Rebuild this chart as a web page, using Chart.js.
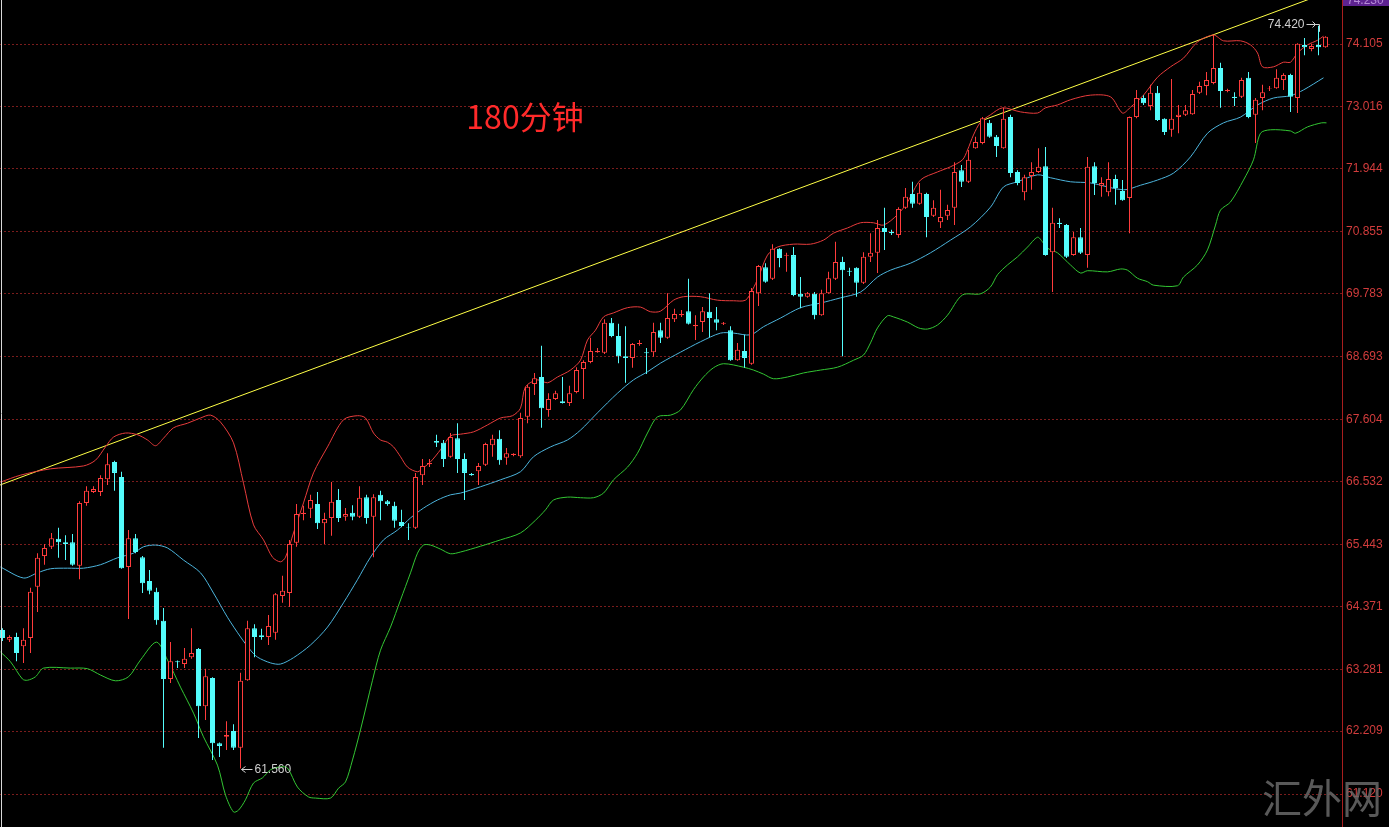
<!DOCTYPE html>
<html>
<head>
<meta charset="utf-8">
<script src="https://cdn.jsdelivr.net/npm/chart.js@4.4.0/dist/chart.umd.min.js"></script>
<style>
  html, body { margin: 0; padding: 0; background: #000; overflow: hidden; }
  #wrap { width: 1389px; height: 827px; }
</style>
</head>
<body>
<div id="wrap"><canvas id="kChart" width="1389" height="827"></canvas></div>
<script>
// 180-minute candles, one entry per bar (left to right)
const opens = [
  63.96, 63.79, 63.84, 63.68, 63.82, 64.71, 65.24, 65.40, 65.54, 65.48,
  65.48, 65.07, 66.16, 66.35, 66.35, 66.57, 66.87, 66.61, 65.05, 65.55,
  65.22, 64.81, 64.62, 64.12, 63.11, 63.42, 63.37, 63.49, 63.63, 62.64,
  63.13, 62.00, 62.11, 62.21, 61.92, 63.09, 63.99, 63.87, 63.84, 63.91,
  64.55, 64.60, 65.47, 65.97, 66.06, 66.14, 65.81, 65.90, 66.21, 65.92,
  65.99, 65.92, 66.26, 65.92, 66.30, 66.19, 66.11, 65.83, 65.74, 65.73,
  66.64, 66.83, 67.23, 67.20, 66.96, 67.28, 66.92, 66.66, 66.71, 66.82,
  67.16, 67.27, 66.94, 66.99, 66.97, 67.65, 68.22, 68.34, 67.77, 67.96,
  67.92, 67.89, 68.08, 68.48, 68.60, 68.77, 68.76, 69.28, 69.05, 68.70,
  68.67, 68.91, 68.77, 68.77, 69.15, 69.02, 69.34, 69.41, 69.48, 69.22,
  69.29, 69.47, 69.34, 69.26, 69.15, 68.63, 68.79, 68.57, 69.79, 70.24,
  70.04, 70.56, 70.44, 70.45, 69.78, 69.73, 69.78, 69.41, 69.79, 70.04,
  70.33, 70.18, 70.23, 69.97, 70.42, 70.49, 70.92, 70.85, 70.80, 71.27,
  71.51, 71.34, 71.51, 71.13, 71.02, 71.13, 71.27, 71.92, 71.72, 72.30,
  72.39, 72.74, 72.50, 72.30, 72.84, 71.89, 71.54, 71.82, 71.89, 71.99,
  70.50, 71.01, 70.97, 70.45, 70.76, 70.45, 71.99, 71.65, 71.54, 71.77,
  71.56, 71.44, 72.84, 73.17, 73.03, 73.26, 72.81, 72.62, 72.84, 72.88,
  72.89, 73.26, 73.38, 73.43, 73.69, 73.29, 73.19, 73.19, 73.52, 72.88,
  73.17, 73.33, 73.34, 73.48, 73.57, 73.17, 74.09, 74.02, 74.09, 74.05
];
const highs = [
  63.99, 63.87, 63.91, 63.99, 64.69, 65.29, 65.45, 65.64, 65.73, 65.60,
  65.62, 66.19, 66.45, 66.45, 66.64, 67.02, 66.89, 66.70, 65.69, 65.62,
  65.24, 65.00, 64.69, 64.34, 63.75, 63.43, 63.65, 63.99, 63.65, 63.29,
  63.14, 62.01, 62.38, 62.33, 63.22, 64.12, 64.06, 63.98, 64.22, 64.60,
  64.90, 65.52, 66.14, 66.11, 66.30, 66.35, 65.99, 66.52, 66.40, 66.07,
  66.12, 66.45, 66.30, 66.31, 66.37, 66.21, 66.18, 66.04, 65.81, 66.68,
  66.92, 66.92, 67.34, 67.25, 67.37, 67.54, 67.02, 66.68, 66.85, 67.20,
  67.34, 67.42, 67.11, 67.02, 67.72, 68.20, 68.41, 68.88, 68.06, 68.10,
  68.34, 68.19, 68.51, 68.63, 69.02, 68.84, 69.34, 69.36, 69.26, 69.22,
  68.93, 68.98, 68.84, 69.28, 69.28, 69.79, 69.52, 69.50, 70.04, 69.41,
  69.55, 69.79, 69.55, 69.29, 69.22, 68.93, 69.07, 69.88, 70.28, 70.31,
  70.64, 70.57, 70.49, 70.59, 70.07, 69.81, 69.81, 69.85, 70.16, 70.68,
  70.42, 70.23, 70.24, 70.50, 70.83, 71.06, 71.27, 70.89, 71.28, 71.61,
  71.72, 71.70, 71.53, 71.40, 71.58, 71.32, 72.06, 72.01, 72.27, 72.50,
  72.84, 72.79, 72.53, 73.00, 72.88, 71.92, 71.84, 72.06, 72.30, 72.32,
  71.27, 71.09, 70.99, 70.85, 70.92, 72.15, 72.06, 71.80, 72.06, 71.84,
  71.75, 72.85, 73.31, 73.22, 73.40, 73.38, 72.82, 73.50, 73.05, 73.05,
  73.31, 73.45, 73.62, 74.26, 73.78, 73.33, 73.27, 73.52, 73.62, 73.17,
  73.40, 73.38, 73.67, 73.60, 73.59, 74.12, 74.21, 74.11, 74.42, 74.24
];
const lows = [
  63.77, 63.75, 63.42, 63.39, 63.56, 64.27, 65.09, 65.36, 65.21, 65.17,
  65.07, 64.84, 66.11, 66.33, 66.28, 66.47, 66.37, 65.02, 64.15, 65.29,
  64.60, 64.58, 64.05, 61.92, 63.04, 63.30, 63.30, 63.46, 62.09, 62.40,
  61.71, 61.76, 61.88, 61.88, 61.56, 63.08, 63.49, 63.79, 63.70, 63.79,
  64.43, 64.36, 65.40, 65.86, 65.90, 65.71, 65.45, 65.59, 65.83, 65.85,
  65.86, 65.90, 65.80, 65.22, 65.86, 66.11, 65.73, 65.74, 65.52, 65.71,
  66.47, 66.78, 67.13, 66.78, 66.94, 66.68, 66.21, 66.63, 66.47, 66.80,
  66.96, 66.82, 66.82, 66.97, 66.94, 67.54, 68.03, 67.46, 67.65, 67.94,
  67.88, 67.84, 68.06, 67.96, 68.58, 68.76, 68.74, 69.03, 68.58, 68.24,
  68.50, 68.88, 68.39, 68.69, 68.93, 69.00, 69.29, 69.38, 69.25, 68.98,
  69.12, 69.03, 69.15, 69.24, 68.62, 68.62, 68.50, 68.55, 69.57, 69.97,
  70.02, 70.24, 70.16, 69.74, 69.53, 69.71, 69.34, 69.40, 69.78, 70.02,
  68.70, 70.09, 69.73, 69.95, 70.33, 70.14, 70.54, 70.80, 70.75, 71.25,
  71.27, 71.32, 70.76, 71.11, 70.92, 71.06, 70.97, 71.63, 71.70, 72.29,
  72.37, 72.48, 72.15, 72.29, 71.80, 71.66, 71.40, 71.58, 71.87, 70.44,
  69.81, 70.92, 70.40, 70.44, 70.47, 70.23, 71.49, 71.46, 71.47, 71.32,
  71.39, 70.83, 72.82, 73.05, 72.96, 72.77, 72.53, 72.50, 72.56, 72.86,
  72.88, 73.24, 73.22, 73.41, 73.00, 73.27, 73.03, 73.17, 72.82, 72.39,
  72.96, 73.29, 73.33, 73.31, 72.93, 72.91, 73.91, 73.98, 73.91, 74.04
];
const closes = [
  63.82, 63.84, 63.56, 63.79, 64.62, 65.21, 65.38, 65.55, 65.48, 65.45,
  65.09, 66.16, 66.37, 66.40, 66.59, 66.83, 66.68, 65.03, 65.55, 65.31,
  64.77, 64.64, 64.13, 63.11, 63.42, 63.40, 63.46, 63.56, 62.64, 63.16,
  62.00, 61.95, 62.14, 61.92, 63.08, 63.99, 63.84, 63.84, 64.03, 64.58,
  64.64, 65.45, 65.97, 65.99, 66.21, 65.81, 65.88, 66.18, 65.90, 65.97,
  65.92, 66.25, 65.90, 66.26, 66.19, 66.14, 65.85, 65.76, 65.73, 66.61,
  66.80, 66.85, 67.20, 66.92, 67.30, 66.92, 66.68, 66.64, 66.80, 67.18,
  67.27, 66.90, 67.02, 67.01, 67.63, 68.17, 68.32, 67.80, 67.96, 68.06,
  67.89, 68.06, 68.46, 68.60, 68.79, 68.79, 69.28, 69.05, 68.70, 68.67,
  68.91, 68.93, 68.75, 69.12, 69.02, 69.36, 69.43, 69.43, 69.26, 69.24,
  69.48, 69.36, 69.28, 69.28, 68.63, 68.81, 68.67, 69.83, 70.26, 69.99,
  70.56, 70.40, 70.45, 69.76, 69.73, 69.79, 69.41, 69.79, 70.05, 70.33,
  70.19, 70.16, 69.97, 70.42, 70.49, 70.92, 70.85, 70.83, 71.25, 71.46,
  71.34, 71.53, 71.11, 71.27, 71.11, 71.23, 71.89, 71.72, 72.10, 72.41,
  72.82, 72.50, 72.34, 72.81, 71.87, 71.70, 71.80, 71.89, 71.98, 70.45,
  71.01, 70.99, 70.42, 70.76, 70.49, 71.98, 71.70, 71.70, 71.77, 71.61,
  71.40, 72.84, 73.17, 73.08, 73.26, 72.79, 72.58, 72.81, 72.88, 72.96,
  73.24, 73.38, 73.48, 73.69, 73.29, 73.31, 73.17, 73.48, 72.84, 73.14,
  73.27, 73.34, 73.52, 73.57, 73.19, 74.11, 74.05, 74.07, 74.05, 74.23
];

// Bollinger bands, read as [bar index, price] points
const upperBand = [
  [-0.29, 66.52], [2.57, 66.64], [6.86, 66.75], [11.57, 66.80], [13.29, 66.90], [14.71, 67.13],
  [15.86, 67.30], [17.57, 67.37], [19.29, 67.34], [20.71, 67.25], [21.86, 67.15], [23.0, 67.28],
  [24.43, 67.46], [26.43, 67.54], [28.29, 67.63], [29.71, 67.68], [31.14, 67.56], [33.0, 67.20],
  [34.43, 66.50], [35.86, 65.78], [37.29, 65.52], [38.57, 65.22], [39.71, 65.14], [40.43, 65.22],
  [41.57, 65.64], [43.0, 66.16], [44.43, 66.68], [46.43, 67.13], [48.71, 67.60], [50.71, 67.67],
  [51.86, 67.63], [53.0, 67.37], [54.0, 67.25], [55.0, 67.21], [55.86, 67.13], [56.86, 66.96],
  [57.86, 66.78], [59.29, 66.70], [60.14, 66.77], [61.14, 66.87], [62.57, 67.08], [64.0, 67.32],
  [65.43, 67.35], [67.29, 67.39], [69.29, 67.51], [71.14, 67.63], [72.86, 67.67], [74.0, 67.80],
  [74.71, 68.17], [76.43, 68.29], [77.86, 68.24], [79.29, 68.34], [81.14, 68.46], [82.57, 68.63],
  [83.57, 68.98], [84.71, 69.15], [85.86, 69.38], [87.29, 69.45], [89.29, 69.54], [91.14, 69.55],
  [92.57, 69.47], [94.0, 69.48], [95.86, 69.67], [97.29, 69.73], [99.71, 69.73], [102.14, 69.67],
  [104.43, 69.66], [106.14, 69.67], [107.14, 69.85], [108.0, 70.07], [109.29, 70.45], [110.71, 70.59],
  [113.0, 70.64], [115.43, 70.64], [117.29, 70.71], [118.71, 70.83], [120.71, 70.92], [122.57, 71.01],
  [124.43, 71.01], [125.86, 70.97], [127.86, 71.15], [129.29, 71.37], [131.14, 71.75], [133.57, 71.89],
  [135.43, 71.98], [137.14, 72.10], [137.86, 72.27], [138.71, 72.53], [139.71, 72.75], [141.14, 72.88],
  [142.86, 73.00], [145.43, 72.93], [147.86, 72.91], [149.0, 73.00], [150.71, 73.05], [152.57, 73.14],
  [155.43, 73.22], [158.29, 73.19], [160.0, 72.91], [161.14, 73.01], [163.0, 73.22], [165.0, 73.53],
  [166.86, 73.71], [168.71, 73.86], [170.71, 74.14], [173.0, 74.26], [174.43, 74.16], [176.86, 74.16],
  [178.29, 74.09], [179.29, 73.95], [180.0, 73.71], [181.57, 73.71], [183.0, 73.79], [184.0, 73.79],
  [185.0, 73.95], [186.43, 74.09], [187.86, 74.17], [188.71, 74.24]
];
const midBand = [
  [-0.29, 65.05], [3.0, 64.86], [5.0, 64.95], [6.86, 65.02], [9.29, 65.03], [11.57, 65.03],
  [14.0, 65.09], [16.43, 65.21], [18.71, 65.29], [20.14, 65.40], [21.86, 65.43], [23.57, 65.38],
  [25.86, 65.17], [28.29, 64.95], [30.14, 64.60], [32.14, 64.18], [34.0, 63.84], [35.43, 63.61],
  [36.43, 63.49], [38.29, 63.39], [39.71, 63.37], [41.57, 63.48], [44.0, 63.70], [46.43, 64.01],
  [48.71, 64.43], [50.71, 64.83], [52.57, 65.22], [54.43, 65.52], [56.43, 65.69], [58.29, 65.90],
  [60.14, 66.07], [62.14, 66.21], [64.0, 66.30], [65.43, 66.33], [68.29, 66.44], [71.14, 66.56],
  [74.0, 66.70], [75.86, 66.96], [78.29, 67.13], [80.71, 67.25], [82.57, 67.42], [85.0, 67.72],
  [87.86, 68.06], [90.14, 68.29], [92.14, 68.43], [94.0, 68.58], [96.86, 68.77], [99.71, 68.95],
  [102.57, 69.10], [104.43, 69.10], [106.86, 69.07], [108.71, 69.21], [111.14, 69.36], [114.0, 69.54],
  [116.86, 69.62], [119.71, 69.71], [122.57, 69.81], [125.0, 70.07], [126.86, 70.19], [129.71, 70.31],
  [132.57, 70.49], [135.43, 70.71], [138.29, 70.94], [141.14, 71.28], [143.0, 71.63], [145.0, 71.72],
  [147.86, 71.84], [149.71, 71.79], [152.57, 71.72], [155.43, 71.70], [160.14, 71.58], [162.57, 71.66],
  [165.0, 71.75], [167.29, 71.87], [169.71, 72.15], [172.14, 72.56], [174.43, 72.74], [176.86, 72.84],
  [179.29, 73.05], [181.57, 73.17], [184.0, 73.21], [185.86, 73.31], [188.71, 73.52]
];
const lowerBand = [
  [-0.29, 63.58], [1.14, 63.41], [2.86, 63.11], [3.57, 63.09], [4.71, 63.15], [5.86, 63.30],
  [9.71, 63.30], [12.14, 63.29], [14.0, 63.18], [16.14, 63.08], [18.0, 63.15], [19.71, 63.44],
  [22.0, 63.75], [23.57, 63.44], [25.43, 62.97], [27.29, 62.52], [28.71, 62.11], [30.71, 61.62],
  [31.86, 61.10], [33.0, 60.81], [33.71, 60.84], [34.71, 61.02], [35.86, 61.31], [37.14, 61.40],
  [38.29, 61.54], [39.71, 61.59], [40.71, 61.57], [42.14, 61.24], [43.71, 61.07], [44.71, 61.05],
  [46.86, 61.05], [48.0, 61.22], [49.0, 61.33], [50.0, 61.71], [51.14, 62.23], [52.86, 63.09],
  [54.0, 63.61], [55.43, 64.01], [56.86, 64.48], [58.29, 64.95], [59.29, 65.29], [60.14, 65.43],
  [61.14, 65.43], [62.57, 65.36], [64.0, 65.28], [65.43, 65.31], [68.29, 65.41], [71.14, 65.52],
  [74.0, 65.64], [76.14, 65.86], [77.57, 66.04], [78.71, 66.21], [80.71, 66.26], [82.57, 66.25],
  [84.43, 66.25], [85.86, 66.33], [87.29, 66.56], [89.29, 66.78], [90.71, 67.02], [92.14, 67.37],
  [93.57, 67.65], [95.43, 67.68], [96.86, 67.77], [98.71, 68.12], [100.14, 68.34], [101.57, 68.50],
  [103.0, 68.57], [105.86, 68.51], [107.29, 68.46], [108.71, 68.39], [110.14, 68.31], [112.14, 68.34],
  [114.43, 68.41], [116.86, 68.46], [119.29, 68.51], [121.57, 68.63], [123.0, 68.72], [124.0, 68.93],
  [125.0, 69.19], [126.43, 69.40], [127.29, 69.38], [129.29, 69.29], [130.86, 69.19], [132.14, 69.17],
  [133.57, 69.24], [135.0, 69.41], [137.14, 69.76], [139.71, 69.78], [141.14, 69.90], [142.14, 70.11],
  [143.57, 70.28], [145.0, 70.42], [146.43, 70.59], [147.86, 70.76], [148.57, 70.68], [149.29, 70.57],
  [150.71, 70.49], [152.57, 70.28], [154.0, 70.14], [155.0, 70.18], [157.86, 70.16], [159.71, 70.21],
  [160.71, 70.19], [162.14, 70.05], [163.57, 69.99], [164.43, 69.93], [167.86, 69.92], [168.71, 70.07],
  [170.71, 70.28], [172.14, 70.54], [173.29, 70.97], [174.0, 71.23], [175.43, 71.37], [177.29, 71.75],
  [178.71, 72.10], [179.71, 72.56], [181.14, 72.62], [184.0, 72.60], [184.71, 72.56], [186.43, 72.67],
  [188.43, 72.74], [189.14, 72.74]
];

// hand-drawn trend line (two anchor points)
const trendLine = [[-0.36, 66.47], [188.2, 74.95]];

const tickVals = [74.105, 73.016, 71.944, 70.855, 69.783, 68.693, 67.604, 66.532, 65.443, 64.371, 63.281, 62.209, 61.120];
const titleText = "180分钟";
const watermark = "汇外网";
const lowMark = { idx: 34, value: 61.56 };
const highMark = { idx: 188, value: 74.42 };

const UP = "#ff3c3c";
const DOWN = "#54fcfc";

const bars = opens.map((o, i) => i);
const rising = bars.map(i => closes[i] >= opens[i]);
const toPts = arr => arr.map(p => ({ x: p[0], y: p[1] }));

const background = {
  id: "background",
  beforeDraw(chart) {
    const c = chart.ctx;
    c.save();
    c.fillStyle = "#000";
    c.fillRect(0, 0, chart.width, chart.height);
    c.restore();
  }
};

const overlay = {
  id: "overlay",
  afterDraw(chart) {
    const c = chart.ctx;
    const xs = chart.scales.x, ys = chart.scales.y;
    c.save();

    // left edge line
    c.strokeStyle = "#d8d8d8";
    c.lineWidth = 1;
    c.beginPath();
    c.moveTo(1.5, 0);
    c.lineTo(1.5, chart.height);
    c.stroke();

    // title
    c.fillStyle = "#ff2a2a";
    c.font = "32px 'Noto Sans CJK SC', sans-serif";
    c.textAlign = "center";
    c.textBaseline = "middle";
    c.fillText(titleText, 525, 117);

    // lowest price marker
    c.strokeStyle = "#cfcfcf";
    c.fillStyle = "#cfcfcf";
    c.font = "12px 'Liberation Sans', Arial, sans-serif";
    const lx = xs.getPixelForValue(lowMark.idx);
    const ly = Math.round(ys.getPixelForValue(lowMark.value)) + 0.5;
    c.beginPath();
    c.moveTo(lx + 1, ly); c.lineTo(lx + 12, ly);
    c.moveTo(lx + 5, ly - 3); c.lineTo(lx + 1, ly); c.lineTo(lx + 5, ly + 3);
    c.stroke();
    c.textAlign = "left";
    c.fillText(lowMark.value.toFixed(3), lx + 14, ly);

    // highest price marker
    const hx = Math.round(xs.getPixelForValue(highMark.idx)) + 0.5;
    const hy = ys.getPixelForValue(highMark.value);
    const ty = Math.round(hy) - 1.5;
    c.beginPath();
    c.moveTo(hx - 13, ty); c.lineTo(hx, ty); c.lineTo(hx, hy + 6);
    c.moveTo(hx - 7, ty - 3); c.lineTo(hx - 4, ty); c.lineTo(hx - 7, ty + 3);
    c.stroke();
    c.textAlign = "right";
    c.fillText(highMark.value.toFixed(3), hx - 15, ty);

    // current price tag, mostly off the top
    c.fillStyle = "#5e2391";
    c.fillRect(1343, 0, 46, 6);
    c.beginPath();
    c.rect(1343, 0, 46, 6);
    c.clip();
    c.fillStyle = "#b58ad6";
    c.textAlign = "left";
    c.textBaseline = "alphabetic";
    c.fillText(closes[closes.length - 1].toFixed(3), 1347, 4);
    c.restore();

    // watermark
    c.save();
    c.fillStyle = "rgba(105,105,105,0.85)";
    c.font = "40px 'Noto Sans CJK SC', serif";
    c.textAlign = "left";
    c.textBaseline = "middle";
    c.fillText(watermark, 1262, 798);
    c.restore();
  }
};

const ctx = document.getElementById("kChart").getContext("2d");

new Chart(ctx, {
  type: "bar",
  data: {
    datasets: [
      {
        label: "body",
        data: bars.map(i => ({ x: i, y: [opens[i], closes[i]] })),
        backgroundColor: bars.map(i => rising[i] ? "#000" : DOWN),
        borderColor: bars.map(i => rising[i] ? UP : DOWN),
        borderWidth: 1,
        borderSkipped: false,
        inflateAmount: 0,
        barThickness: 5,
        grouped: false,
        order: 0
      },
      {
        label: "wick",
        data: bars.map(i => ({ x: i, y: [lows[i], highs[i]] })),
        backgroundColor: bars.map(i => rising[i] ? UP : DOWN),
        borderWidth: 0,
        inflateAmount: 0,
        barThickness: 1,
        grouped: false,
        order: 1
      },
      {
        type: "line", label: "upper", data: toPts(upperBand),
        borderColor: "#e83c3c", borderWidth: 1, pointRadius: 0, tension: 0.3, order: 2
      },
      {
        type: "line", label: "mid", data: toPts(midBand),
        borderColor: "#4cb4dc", borderWidth: 1, pointRadius: 0, tension: 0.3, order: 2
      },
      {
        type: "line", label: "lower", data: toPts(lowerBand),
        borderColor: "#33c633", borderWidth: 1, pointRadius: 0, tension: 0.3, order: 2
      },
      {
        type: "line", label: "trend", data: toPts(trendLine),
        borderColor: "#ffff46", borderWidth: 1, pointRadius: 0, order: 3
      }
    ]
  },
  options: {
    responsive: false,
    animation: false,
    layout: { padding: 0 },
    plugins: {
      legend: { display: false },
      tooltip: { enabled: false }
    },
    scales: {
      x: {
        type: "linear",
        display: false,
        offset: false,
        min: -2.5 / 7,
        max: 1339.5 / 7
      },
      y: {
        position: "right",
        min: 60.549,
        max: 74.867,
        afterBuildTicks: scale => {
          scale.ticks = tickVals.map(v => ({ value: v }));
        },
        afterFit: scale => {
          scale.width = 47;
          scale.paddingTop = 0;
          scale.paddingBottom = 0;
        },
        grid: { color: "#7a1c1c", lineWidth: 1, drawTicks: false },
        border: { display: true, color: "#a81e1e", width: 1, dash: [2, 2] },
        ticks: {
          color: "#d23c3c",
          padding: 4,
          font: { family: "'Liberation Sans', Arial, sans-serif", size: 12 },
          callback: v => Number(v).toFixed(3)
        }
      }
    }
  },
  plugins: [background, overlay]
});
</script>
</body>
</html>
